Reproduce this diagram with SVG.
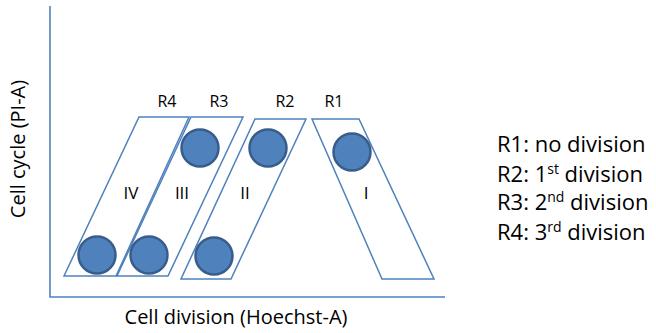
<svg xmlns="http://www.w3.org/2000/svg" width="656" height="333" viewBox="0 0 656 333">
  <style>
    .axis { fill: none; stroke: #4F81BD; stroke-width: 1.6; }
    .region { fill: none; stroke: #4F81BD; stroke-width: 1.5; stroke-linejoin: miter; }
    .cell { fill: #4F81BD; stroke: #385D8A; stroke-width: 2.5; }
    text { font-family: "Open Sans", "Liberation Sans", sans-serif; fill: #000; }
    .rlab { font-size: 16px; text-anchor: middle; }
    .roman { font-size: 17px; text-anchor: middle; }
    .axlab { font-size: 20px; text-anchor: middle; }
    .legend { font-size: 22px; }
    .sup { font-size: 14px; }
  </style>

  <rect width="656" height="333" fill="#ffffff"/>

  <!-- axes -->
  <g id="axes">
    <polyline class="axis" points="50,6 50,297 445,297"/>
    <text class="axlab" x="236" y="324">Cell division (Hoechst-A)</text>
    <text class="axlab" transform="translate(25,149) rotate(-90)" x="0" y="0">Cell cycle (PI-A)</text>
  </g>

  <!-- gate R4: third division -->
  <g id="region-IV">
    <polygon class="region" points="139,117 189,117 116,276 64,276"/>
    <circle class="cell" cx="97" cy="255" r="18.5"/>
    <text class="roman" x="131" y="199">IV</text>
    <text class="rlab" x="167" y="107">R4</text>
  </g>

  <!-- gate R3: second division -->
  <g id="region-III">
    <polygon class="region" points="191,117 243,117 168,276 117,276"/>
    <circle class="cell" cx="200" cy="148" r="18.5"/>
    <circle class="cell" cx="149" cy="255" r="18.5"/>
    <text class="roman" x="182" y="199">III</text>
    <text class="rlab" x="219" y="107">R3</text>
  </g>

  <!-- gate R2: first division -->
  <g id="region-II">
    <polygon class="region" points="255,119 306,119 231,279 181,279"/>
    <circle class="cell" cx="268" cy="148" r="18.5"/>
    <circle class="cell" cx="214" cy="256" r="18.5"/>
    <text class="roman" x="245" y="199">II</text>
    <text class="rlab" x="285" y="107">R2</text>
  </g>

  <!-- gate R1: no division -->
  <g id="region-I">
    <polygon class="region" points="312,119 359,119 434,279 382,279"/>
    <circle class="cell" cx="352" cy="152" r="18.5"/>
    <text class="roman" x="366" y="199">I</text>
    <text class="rlab" x="334" y="107">R1</text>
  </g>

  <!-- legend -->
  <g id="legend">
    <text class="legend" x="497" y="152">R1: no division</text>
    <text class="legend" x="497" y="182">R2: 1<tspan class="sup" dy="-8">st</tspan><tspan dy="8"> division</tspan></text>
    <text class="legend" x="497" y="210">R3: 2<tspan class="sup" dy="-8">nd</tspan><tspan dy="8"> division</tspan></text>
    <text class="legend" x="497" y="240">R4: 3<tspan class="sup" dy="-8">rd</tspan><tspan dy="8"> division</tspan></text>
  </g>
</svg>
